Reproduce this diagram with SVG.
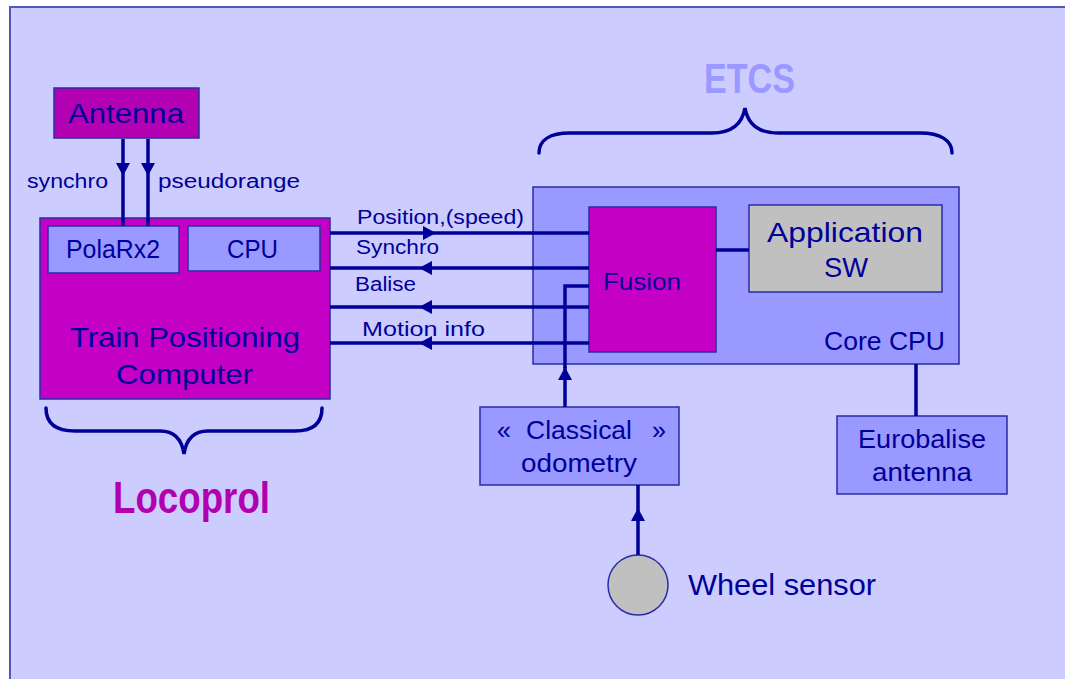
<svg xmlns="http://www.w3.org/2000/svg" width="1065" height="679" viewBox="0 0 1065 679">
  <style>
    .t { font-family: "Liberation Sans", Arial, sans-serif; fill: #000099; }
    .box { stroke: #2B2BA6; stroke-width: 1.5; }
    .lav { fill: #9999FF; }
    .mag { fill: #C400C4; }
    .wire { stroke: #000099; stroke-width: 3.5; fill: none; }
    .brace { stroke: #000099; stroke-width: 3.5; fill: none; stroke-linecap: round; }
  </style>
  <defs>
    <marker id="ah" markerUnits="userSpaceOnUse" markerWidth="16" markerHeight="16" viewBox="0 -8 16 16" refX="13" refY="0" orient="auto">
      <path d="M0,-7 L13,0 L0,7 z" fill="#000099"/>
    </marker>
  </defs>

  <rect x="10" y="7" width="1070" height="690" fill="#CCCCFF" stroke="#5555BB" stroke-width="2"/>

  <!-- Braces and group labels -->
  <g id="etcs-label">
    <path class="brace" d="M539,153 C539,140 550,133 570,133 L712,133 C730,133 742,125 745,108 C748,125 760,133 778,133 L920,133 C940,133 952,140 952,153"/>
    <text class="t" x="704" y="93" font-size="42" font-weight="bold" style="fill:#9999FF" textLength="91" lengthAdjust="spacingAndGlyphs">ETCS</text>
  </g>
  <g id="locoprol-label">
    <path class="brace" d="M46,408 C46,424 56,431 75,431 L160,431 C175,431 182,440 184,454 C186,440 193,431 208,431 L295,431 C312,431 322,424 322,408"/>
    <text class="t" x="113" y="513" font-size="44" font-weight="bold" style="fill:#B000B0" textLength="157" lengthAdjust="spacingAndGlyphs">Locoprol</text>
  </g>

  <!-- Nodes -->
  <g id="antenna">
    <rect class="box" x="54" y="88" width="145" height="50" fill="#B300B3"/>
    <text class="t" x="68" y="123" font-size="27" textLength="116" lengthAdjust="spacingAndGlyphs">Antenna</text>
  </g>

  <g id="tpc">
    <rect class="box mag" x="40" y="218" width="290" height="181"/>
    <text class="t" x="70" y="347" font-size="28" textLength="230" lengthAdjust="spacingAndGlyphs">Train Positioning</text>
    <text class="t" x="116" y="384" font-size="28" textLength="137" lengthAdjust="spacingAndGlyphs">Computer</text>
  </g>
  <g id="polarx2">
    <rect class="box lav" x="48" y="226" width="131" height="47"/>
    <text class="t" x="66" y="258" font-size="25" textLength="94" lengthAdjust="spacingAndGlyphs">PolaRx2</text>
  </g>
  <g id="cpu">
    <rect class="box lav" x="188" y="226" width="132" height="45"/>
    <text class="t" x="227" y="258" font-size="25" textLength="51" lengthAdjust="spacingAndGlyphs">CPU</text>
  </g>

  <g id="core-cpu">
    <rect class="box lav" x="533" y="187" width="426" height="177"/>
    <text class="t" x="824" y="350" font-size="25" textLength="121" lengthAdjust="spacingAndGlyphs">Core CPU</text>
  </g>
  <g id="fusion">
    <rect class="box mag" x="589" y="207" width="127" height="145"/>
    <text class="t" x="603" y="290" font-size="24" textLength="78" lengthAdjust="spacingAndGlyphs">Fusion</text>
  </g>
  <g id="application-sw">
    <rect class="box" x="749" y="205" width="193" height="87" fill="#C0C0C0"/>
    <text class="t" x="767" y="242" font-size="28" textLength="156" lengthAdjust="spacingAndGlyphs">Application</text>
    <text class="t" x="824" y="277" font-size="28" textLength="44" lengthAdjust="spacingAndGlyphs">SW</text>
  </g>

  <g id="odometry">
    <rect class="box lav" x="480" y="407" width="199" height="78"/>
    <text class="t" y="439" font-size="25"><tspan x="497">«</tspan><tspan x="526" textLength="106" lengthAdjust="spacingAndGlyphs">Classical</tspan><tspan x="652">»</tspan></text>
    <text class="t" x="521" y="472" font-size="25" textLength="116" lengthAdjust="spacingAndGlyphs">odometry</text>
  </g>

  <g id="eurobalise">
    <rect class="box lav" x="837" y="416" width="170" height="78"/>
    <text class="t" x="858" y="448" font-size="25" textLength="128" lengthAdjust="spacingAndGlyphs">Eurobalise</text>
    <text class="t" x="872" y="481" font-size="25" textLength="100" lengthAdjust="spacingAndGlyphs">antenna</text>
  </g>

  <g id="wheel-sensor">
    <circle class="box" cx="638" cy="585" r="30" fill="#C0C0C0"/>
    <text class="t" x="688" y="595" font-size="29" textLength="188" lengthAdjust="spacingAndGlyphs">Wheel sensor</text>
  </g>

  <!-- Connectors -->
  <g id="connectors">
    <path class="wire" d="M123,139 L123,176 L123,226" marker-mid="url(#ah)"/>
    <path class="wire" d="M148,139 L148,176 L148,226" marker-mid="url(#ah)"/>
    <text class="t" x="27" y="188" font-size="20" textLength="81" lengthAdjust="spacingAndGlyphs">synchro</text>
    <text class="t" x="158" y="188" font-size="20" textLength="142" lengthAdjust="spacingAndGlyphs">pseudorange</text>

    <path class="wire" d="M330,233 L436,233 L589,233" marker-mid="url(#ah)"/>
    <text class="t" x="357" y="224" font-size="20" textLength="167" lengthAdjust="spacingAndGlyphs">Position,(speed)</text>

    <path class="wire" d="M589,268 L419,268 L330,268" marker-mid="url(#ah)"/>
    <text class="t" x="356" y="254" font-size="20" textLength="83" lengthAdjust="spacingAndGlyphs">Synchro</text>

    <path class="wire" d="M589,307 L419,307 L330,307" marker-mid="url(#ah)"/>
    <text class="t" x="355" y="291" font-size="20" textLength="61" lengthAdjust="spacingAndGlyphs">Balise</text>

    <path class="wire" d="M589,343 L419,343 L330,343" marker-mid="url(#ah)"/>
    <text class="t" x="362" y="336" font-size="20" textLength="123" lengthAdjust="spacingAndGlyphs">Motion info</text>

    <line class="wire" x1="716" y1="250" x2="749" y2="250"/>

    <g id="odometry-to-fusion">
      <line class="wire" x1="565" y1="407" x2="565" y2="367" marker-end="url(#ah)"/>
      <path class="wire" d="M565,368 L565,286 L589,286"/>
    </g>

    <path class="wire" d="M638,555 L638,508 L638,485" marker-mid="url(#ah)"/>

    <line class="wire" x1="916" y1="364" x2="916" y2="416"/>
  </g>
</svg>
